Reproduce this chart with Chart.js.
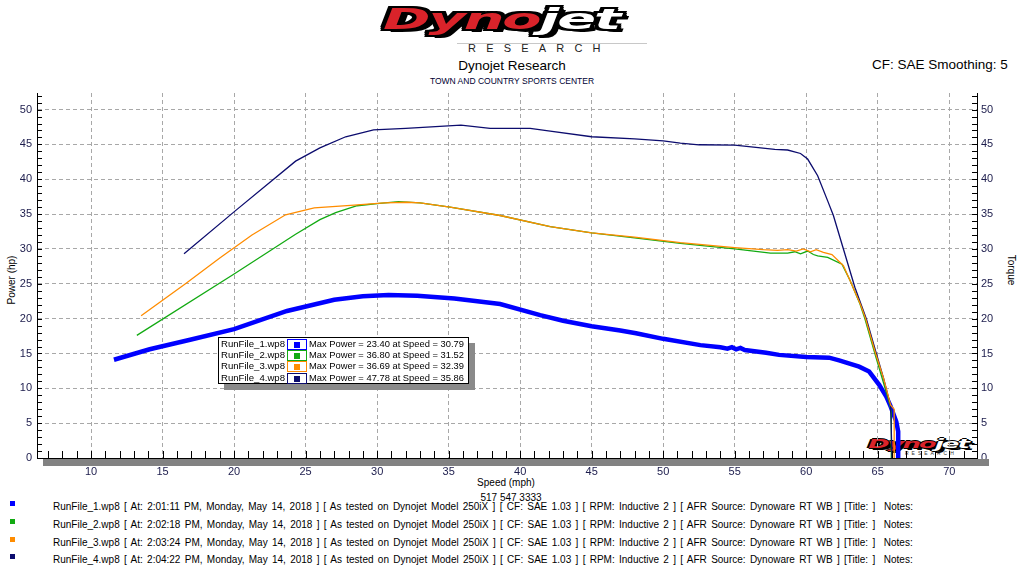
<!DOCTYPE html>
<html>
<head>
<meta charset="utf-8">
<script src="https://cdn.jsdelivr.net/npm/chart.js@4/dist/chart.umd.min.js"></script>
<style>
  body { margin: 0; background: #fff; }
  #wrap { position: relative; width: 1024px; height: 576px; overflow: hidden; font-family: "Liberation Sans", Arial, sans-serif; color: #000; }
  #wrap div { position: absolute; white-space: pre; }
  canvas { position: absolute; left: 0; top: 0; z-index: 2; }
  .logo { font-family: "DejaVu Sans", sans-serif; font-style: italic; font-weight: 900; transform-origin: left top; letter-spacing: -1px; }
  .logo .r { color: #d9232a; }
  .logo .w { color: #fff; }
  #bigLogo { left: 383px; top: 3px; font-size: 28px; z-index: 3;
    text-shadow: 2px 0 #000, -2px 0 #000, 0 2px #000, 0 -2px #000, 2px 2px #000, -2px -2px #000, 2px -2px #000, -2px 2px #000, 3px 3px #000; }
  #smallLogo { left: 868px; top: 436px; font-size: 13px; z-index: 1;
    text-shadow: 1px 0 #000, -1px 0 #000, 0 1px #000, 0 -1px #000, 1px 1px #000, 2px 2px #000; }
  #logoLine { left: 457px; top: 43px; width: 190px; height: 1px; background: #c8c8c8; }
  #research { left: 468px; top: 42px; font-size: 11px; letter-spacing: 10.2px; color: #222; }
  #smallResearch { left: 905px; top: 450px; font-size: 5px; letter-spacing: 3px; color: #333; z-index: 1; }
  #title1 { left: 0; width: 1024px; text-align: center; top: 58px; font-size: 13.5px; }
  #title2 { left: 0; width: 1024px; text-align: center; top: 76px; font-size: 8.5px; color: #000033; }
  #cf { left: 872px; top: 57px; font-size: 13.5px; }
  #yTitle { left: 11px; top: 280px; font-size: 10px; transform: translate(-50%, -50%) rotate(-90deg); }
  #y2Title { left: 1011px; top: 270px; font-size: 10px; transform: translate(-50%, -50%) rotate(90deg); }
  #xTitle { left: 506px; top: 482px; font-size: 10px; transform: translate(-50%, -50%); }
  #phone { left: 511px; top: 497px; font-size: 10px; transform: translate(-50%, -50%); }
  #legendBox { left: 218px; top: 337px; width: 249px; height: 45px; border: 1px solid #000; background: #fff; box-shadow: 6px 6px 0 #8a8a8a; z-index: 4; }
  .lgName { font-size: 9.6px; text-align: right; width: 66px; }
  .lgSw { width: 18px; height: 9px; border: 1px solid; }
  .lgSw span { position: absolute; left: 6px; top: 2px; width: 6px; height: 6px; }
  .lgText { font-size: 9.6px; transform-origin: left top; }
  .ftSq { width: 5px; height: 5px; }
  .ftLine { font-size: 10px; }
</style>
</head>
<body>
<div id="wrap">
  <canvas id="dynoChart" width="1024" height="576"></canvas>
</div>
<script>
// run data: speed (mph) and power (hp)
const run1Speed = [11.6, 14.1, 17.0, 20.0, 23.7, 27.0, 29.0, 30.8, 32.8, 35.4, 38.6, 41.4, 43.0, 45.0, 47.0, 48.1, 50.0, 52.6, 54.0, 54.5, 54.8, 55.1, 55.4, 55.7, 57.2, 58.1, 60.0, 61.6, 62.3, 63.7, 64.4, 65.1, 65.6, 65.9, 66.3, 66.43, 66.43];
const run1Power = [14.1, 15.6, 17.0, 18.5, 21.1, 22.7, 23.2, 23.4, 23.3, 22.9, 22.1, 20.5, 19.7, 18.9, 18.3, 17.9, 17.1, 16.2, 15.9, 15.7, 15.9, 15.6, 15.8, 15.5, 15.1, 14.8, 14.5, 14.4, 14.0, 13.1, 12.4, 10.5, 8.8, 7.4, 5.2, 3.8, 0];

const run2Speed = [13.2, 20.0, 24.3, 26.0, 27.1, 28.6, 30.0, 31.5, 33.0, 35.1, 38.6, 42.1, 45.0, 48.0, 51.2, 55.0, 57.5, 58.7, 59.2, 59.6, 60.1, 60.5, 60.8, 61.5, 62.5, 63.06, 63.76, 64.1, 64.8, 65.3, 65.85, 65.95, 65.95];
const run2Power = [17.6, 26.4, 32.1, 34.2, 35.2, 36.2, 36.5, 36.8, 36.6, 36.0, 34.8, 33.2, 32.3, 31.6, 30.8, 30.0, 29.4, 29.4, 29.6, 29.3, 29.7, 29.2, 29.0, 28.8, 27.8, 25.5, 22.1, 20.0, 15.0, 11.5, 7.6, 6.5, 0];

const run3Speed = [13.5, 16.6, 19.0, 21.25, 23.6, 25.6, 28.4, 30.5, 32.1, 33.0, 35.1, 38.6, 42.1, 45.0, 48.0, 51.2, 55.0, 57.0, 58.0, 58.7, 59.3, 59.8, 60.3, 60.7, 61.2, 61.8, 62.6, 63.1, 63.8, 64.15, 64.85, 65.4, 65.9, 66.15, 66.15];
const run3Power = [20.4, 25.0, 28.7, 32.0, 34.9, 35.9, 36.3, 36.6, 36.7, 36.6, 36.0, 34.8, 33.2, 32.3, 31.7, 30.9, 30.2, 29.9, 29.8, 29.9, 29.7, 30.0, 29.6, 29.9, 29.5, 29.2, 27.6, 25.3, 22.0, 20.0, 15.0, 11.5, 7.6, 7.0, 0];

const run4Speed = [16.5, 20.1, 24.3, 26.0, 27.8, 29.75, 32.0, 35.86, 37.9, 40.7, 42.1, 45.0, 48.0, 50.0, 51.2, 52.5, 55.0, 57.8, 58.7, 59.6, 60.1, 60.8, 61.5, 61.9, 62.6, 63.4, 64.2, 64.9, 65.4, 65.9, 66.0];
const run4Power = [29.3, 35.5, 42.6, 44.5, 46.1, 47.1, 47.3, 47.78, 47.3, 47.3, 46.9, 46.1, 45.8, 45.5, 45.2, 44.95, 44.9, 44.3, 44.2, 43.7, 42.9, 40.5, 36.9, 34.8, 30.0, 24.5, 20.0, 15.0, 11.5, 7.5, 0];

const runNames = ['RunFile_1.wp8', 'RunFile_2.wp8', 'RunFile_3.wp8', 'RunFile_4.wp8'];
const runTimes = ['2:01:11 PM', '2:02:18 PM', '2:03:24 PM', '2:04:22 PM'];
const maxPower = ['23.40', '36.80', '36.69', '47.78'];
const maxSpeed = ['30.79', '31.52', '32.39', '35.86'];
const runColors = ['#0000ff', '#12aa12', '#ff8c00', '#0c0c6e'];
const runWidths = [4.5, 1.3, 1.3, 1.3];

const xTicks = [10, 15, 20, 25, 30, 35, 40, 45, 50, 55, 60, 65, 70];
const yTicks = [0, 5, 10, 15, 20, 25, 30, 35, 40, 45, 50];

const wrap = document.getElementById('wrap');
function addDiv(id, text, cls) {
  const d = document.createElement('div');
  if (id) d.id = id;
  if (cls) d.className = cls;
  d.textContent = text;
  wrap.appendChild(d);
  return d;
}

// header
const big = document.createElement('div');
big.id = 'bigLogo'; big.className = 'logo';
big.innerHTML = '<span class="r">Dyno</span><span class="w">jet</span>';
wrap.appendChild(big);
big.style.transform = 'scaleX(' + (237 / big.offsetWidth) + ')';
addDiv('logoLine', '');
addDiv('research', 'RESEARCH');
addDiv('title1', 'Dynojet Research');
addDiv('title2', 'TOWN AND COUNTRY SPORTS CENTER');
addDiv('cf', 'CF: SAE Smoothing: 5');
addDiv('yTitle', 'Power (hp)');
addDiv('y2Title', 'Torque');
addDiv('xTitle', 'Speed (mph)');
addDiv('phone', '517 547 3333');

// small logo in the corner of the plot
const small = document.createElement('div');
small.id = 'smallLogo'; small.className = 'logo';
small.innerHTML = '<span class="r">Dyno</span><span class="w">jet</span>';
wrap.appendChild(small);
small.style.transform = 'scaleX(' + (100 / small.offsetWidth) + ')';
addDiv('smallResearch', 'RESEARCH');

// legend box
const box = addDiv('legendBox', '');
for (let i = 0; i < 4; i++) {
  const top = 1 + i * 11.2;
  const n = document.createElement('div');
  n.className = 'lgName'; n.textContent = runNames[i];
  n.style.left = '0px'; n.style.top = (top - 1) + 'px';
  box.appendChild(n);
  const sw = document.createElement('div');
  sw.className = 'lgSw';
  sw.style.left = '68px'; sw.style.top = top + 'px'; sw.style.borderColor = runColors[i];
  sw.innerHTML = '<span style="background:' + runColors[i] + '"></span>';
  box.appendChild(sw);
  const t = document.createElement('div');
  t.className = 'lgText';
  t.textContent = 'Max Power = ' + maxPower[i] + ' at Speed = ' + maxSpeed[i];
  t.style.left = '90px'; t.style.top = (top - 1) + 'px';
  box.appendChild(t);
  if (t.offsetWidth > 155) t.style.transform = 'scaleX(' + (155 / t.offsetWidth) + ')';
}

// footer notes
for (let i = 0; i < 4; i++) {
  const sq = addDiv(null, '', 'ftSq');
  sq.style.left = '10px'; sq.style.top = (501 + i * 17.8) + 'px'; sq.style.background = runColors[i];
  const line = addDiv(null, runNames[i] + ' [ At: ' + runTimes[i] + ', Monday, May 14, 2018 ] [ As tested on Dynojet Model 250iX ] [ CF: SAE 1.03 ] [ RPM: Inductive 2 ] [ AFR Source: Dynoware RT WB ] [Title: ]  Notes:', 'ftLine');
  line.style.left = '53px'; line.style.top = (501 + i * 17.8) + 'px';
  const spaces = line.textContent.split(' ').length - 1;
  line.style.wordSpacing = ((860 - line.offsetWidth) / spaces) + 'px';
}

const pts = (xs, ys) => xs.map((x, i) => ({ x: x, y: ys[i] }));
const runs = [pts(run1Speed, run1Power), pts(run2Speed, run2Power), pts(run3Speed, run3Power), pts(run4Speed, run4Power)];
const drawOrder = [4, 3, 1, 2];

// minor ticks inside the plot and grey band under the speed axis
const axisDecor = {
  id: 'axisDecor',
  beforeDatasetsDraw(chart) {
    const a = chart.chartArea, ctx = chart.ctx;
    ctx.save();
    ctx.fillStyle = '#828282';
    ctx.fillRect(a.left + 6, a.bottom + 1, a.right - a.left + 6, 7);
    ctx.restore();
  },
  afterDraw(chart) {
    const a = chart.chartArea, ctx = chart.ctx;
    const xs = chart.scales.x, ys = chart.scales.y;
    ctx.save();
    ctx.strokeStyle = '#000';
    ctx.lineWidth = 1;
    ctx.beginPath();
    for (let v = Math.ceil(xs.min); v <= xs.max; v++) {
      const px = Math.round(xs.getPixelForValue(v)) + 0.5;
      ctx.moveTo(px, a.bottom); ctx.lineTo(px, a.bottom - 7);
    }
    for (let v = 0; v <= ys.max; v++) {
      const py = Math.round(ys.getPixelForValue(v)) + 0.5;
      ctx.moveTo(a.left, py); ctx.lineTo(a.left + 5, py);
      ctx.moveTo(a.right, py); ctx.lineTo(a.right - 5, py);
    }
    ctx.stroke();
    ctx.restore();
  }
};

const tickFont = { family: '"Liberation Sans", Arial, sans-serif', size: 11 };
const tickColor = '#1c1c4c';

new Chart(document.getElementById('dynoChart'), {
  type: 'line',
  data: {
    datasets: runs.map((r, i) => ({
      label: runNames[i],
      data: r,
      borderColor: runColors[i],
      borderWidth: runWidths[i],
      pointRadius: 0,
      tension: 0,
      fill: false,
      order: drawOrder[i]
    }))
  },
  options: {
    responsive: false,
    animation: false,
    layout: { padding: { top: 93, left: 0, right: 0, bottom: 0 } },
    plugins: { legend: { display: false }, tooltip: { enabled: false } },
    scales: {
      x: {
        type: 'linear', min: 6.22, max: 71.94,
        afterBuildTicks: s => { s.ticks = xTicks.map(v => ({ value: v })); },
        afterFit: s => { s.height = 118; },
        ticks: { font: tickFont, color: tickColor, padding: 7, maxRotation: 0 },
        grid: { drawTicks: false, color: '#a8a8a8', lineWidth: 1 },
        border: { display: true, color: '#000', width: 1, dash: [4, 3] }
      },
      y: {
        position: 'left', min: 0, max: 52.38,
        afterBuildTicks: s => { s.ticks = yTicks.map(v => ({ value: v })); },
        afterFit: s => { s.width = 37; },
        ticks: { font: tickFont, color: tickColor, padding: 5 },
        grid: { drawTicks: false, color: c => c.tick && c.tick.value === 0 ? 'rgba(0,0,0,0)' : '#a8a8a8', lineWidth: 1 },
        border: { display: true, color: '#000', width: 1, dash: [4, 3] }
      },
      y2: {
        position: 'right', min: 0, max: 52.38,
        afterBuildTicks: s => { s.ticks = yTicks.map(v => ({ value: v })); },
        afterFit: s => { s.width = 47; },
        ticks: { font: tickFont, color: tickColor, padding: 4 },
        grid: { display: false, drawTicks: false },
        border: { display: true, color: '#000', width: 1 }
      }
    }
  },
  plugins: [axisDecor]
});
</script>
</body>
</html>
